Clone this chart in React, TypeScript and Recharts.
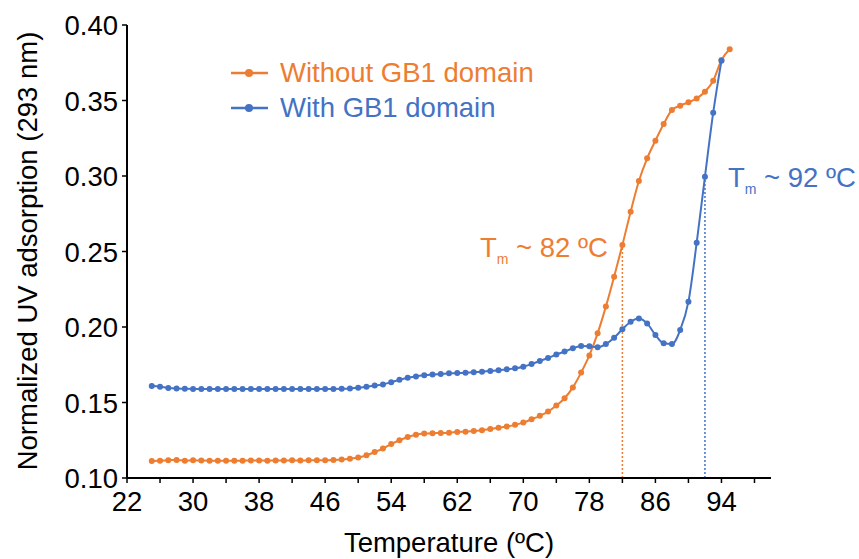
import React from 'react';
import {
    LineChart,
    Line,
    XAxis,
    YAxis,
    ReferenceLine
} from 'recharts';

const temps = [
    25, 26, 27, 28, 29, 30, 31, 32, 33, 34, 35, 36, 37, 38, 39, 40, 41, 42, 43, 44,
    45, 46, 47, 48, 49, 50, 51, 52, 53, 54, 55, 56, 57, 58, 59, 60, 61, 62, 63, 64,
    65, 66, 67, 68, 69, 70, 71, 72, 73, 74, 75, 76, 77, 78, 79, 80, 81, 82, 83, 84,
    85, 86, 87, 88, 89, 90, 91, 92, 93, 94, 95
];

// without GB1 domain (orange)
const withoutGB1 = [
    0.1113, 0.1115, 0.1118, 0.1120, 0.1115, 0.1117, 0.1116, 0.1115, 0.1115, 0.1114,
    0.1115, 0.1115, 0.1116, 0.1116, 0.1115, 0.1116, 0.1116, 0.1117, 0.1116, 0.1117,
    0.1117, 0.1118, 0.1119, 0.1122, 0.1128, 0.1136, 0.1150, 0.1172, 0.1195, 0.1225,
    0.1250, 0.1272, 0.1287, 0.1294, 0.1297, 0.1298, 0.1300, 0.1304, 0.1307, 0.1311,
    0.1317, 0.1324, 0.1333, 0.1341, 0.1352, 0.1367, 0.1389, 0.1412, 0.1440, 0.1480,
    0.1528, 0.1600, 0.1698, 0.1812, 0.1958, 0.2135, 0.2333, 0.2543, 0.2764, 0.2967,
    0.3117, 0.3234, 0.3344, 0.3437, 0.3466, 0.3488, 0.3514, 0.3558, 0.3631, 0.3768,
    0.3839
];

// with GB1 domain (blue), no reading at 95
const withGB1 = [
    0.1609, 0.1605, 0.1596, 0.1592, 0.1591, 0.1590, 0.1590, 0.1590, 0.1590, 0.1590,
    0.1590, 0.1590, 0.1590, 0.1590, 0.1590, 0.1590, 0.1590, 0.1590, 0.1590, 0.1590,
    0.1590, 0.1590, 0.1590, 0.1591, 0.1593, 0.1597, 0.1604, 0.1612, 0.1620, 0.1634,
    0.1650, 0.1664, 0.1673, 0.1680, 0.1686, 0.1689, 0.1693, 0.1695, 0.1697, 0.1700,
    0.1704, 0.1709, 0.1713, 0.1720, 0.1726, 0.1737, 0.1755, 0.1775, 0.1795, 0.1818,
    0.1837, 0.1859, 0.1874, 0.1872, 0.1866, 0.1887, 0.1929, 0.1985, 0.2035, 0.2057,
    0.2024, 0.1947, 0.1892, 0.1887, 0.1980, 0.2168, 0.2558, 0.2995, 0.3419, 0.3764,
    null
];

const xTicks = [22, 26, 30, 34, 38, 42, 46, 50, 54, 58, 62, 66, 70, 74, 78, 82, 86, 90, 94, 98];
const xTickLabels = [22, 30, 38, 46, 54, 62, 70, 78, 86, 94];
const yTicks = [0.10, 0.15, 0.20, 0.25, 0.30, 0.35, 0.40];

const tmWithout = { t: 82, v: 0.2543 };
const tmWith = { t: 92, v: 0.2995 };

const ORANGE = '#ED7D31';
const BLUE = '#4472C4';
const FONT = '"Liberation Sans", Arial, Helvetica, sans-serif';
const FS = 27.5;

const data = temps.map((t, i) => ({ t, without: withoutGB1[i], with: withGB1[i] }));

const XTick = (props: any) => {
    const { x, y, payload } = props;
    if (!xTickLabels.includes(payload.value)) return null;
    return (
        <text x={x} y={y + 26} textAnchor="middle" fill="#000" fontSize={FS} fontFamily={FONT}>
            {payload.value}
        </text>
    );
};

const YTick = (props: any) => {
    const { x, y, payload } = props;
    return (
        <text x={x} y={y} dy={10} textAnchor="end" fill="#000" fontSize={FS} fontFamily={FONT}>
            {payload.value.toFixed(2)}
        </text>
    );
};

const legendItems = [
    { name: 'Without GB1 domain', color: ORANGE },
    { name: 'With GB1 domain', color: BLUE },
];

const LegendBox = () => (
    <div style={{ position: 'absolute', left: 230, top: 55, fontFamily: FONT, fontSize: FS, lineHeight: 1 }}>
        {legendItems.map(item => (
            <div key={item.name} style={{ display: 'flex', alignItems: 'center', height: 35, color: item.color }}>
                <svg width={40} height={12} style={{ marginRight: 10 }}>
                    <line x1={1} y1={6} x2={38} y2={6} stroke={item.color} strokeWidth={2.5} />
                    <circle cx={19} cy={6} r={4} fill={item.color} />
                </svg>
                <span>{item.name}</span>
            </div>
        ))}
    </div>
);

const TmLabel = ({ left, top, color, temp }: any) => (
    <div style={{ position: 'absolute', left, top, color, fontFamily: FONT, fontSize: FS, lineHeight: 1, whiteSpace: 'nowrap' }}>
        T<span style={{ fontSize: 14, position: 'relative', top: 7 }}>m</span> ~ {temp} ºC
    </div>
);

export default function App() {
    return (
        <div style={{ position: 'absolute', left: 0, top: 0, width: 859, height: 559, background: '#fff' }}>
            <LineChart width={859} height={559} data={data} margin={{ top: 25, right: 88, left: 0, bottom: 0 }}>
                <XAxis
                    dataKey="t"
                    type="number"
                    domain={[22, 100]}
                    ticks={xTicks}
                    interval={0}
                    tick={<XTick />}
                    tickSize={5}
                    height={81}
                    axisLine={{ stroke: '#000', strokeWidth: 2 }}
                    tickLine={{ stroke: '#000', strokeWidth: 1.5 }}
                    label={{
                        content: () => (
                            <text x={449} y={552} textAnchor="middle" fill="#000" fontSize={FS} fontFamily={FONT}>
                                Temperature (ºC)
                            </text>
                        )
                    }}
                />
                <YAxis
                    type="number"
                    domain={[0.1, 0.4]}
                    ticks={yTicks}
                    interval={0}
                    width={127}
                    tick={<YTick />}
                    tickSize={5}
                    tickMargin={4}
                    axisLine={{ stroke: '#000', strokeWidth: 2 }}
                    tickLine={{ stroke: '#000', strokeWidth: 1.5 }}
                    label={{
                        content: () => (
                            <text
                                x={27}
                                y={251}
                                transform="rotate(-90, 27, 251)"
                                textAnchor="middle"
                                dominantBaseline="central"
                                fill="#000"
                                fontSize={FS}
                                fontFamily={FONT}
                            >
                                Normalized UV adsorption (293 nm)
                            </text>
                        )
                    }}
                />
                <ReferenceLine
                    segment={[{ x: tmWithout.t, y: 0.1 }, { x: tmWithout.t, y: tmWithout.v }]}
                    stroke={ORANGE}
                    strokeWidth={1.5}
                    strokeDasharray="2 2"
                />
                <ReferenceLine
                    segment={[{ x: tmWith.t, y: 0.1 }, { x: tmWith.t, y: tmWith.v }]}
                    stroke={BLUE}
                    strokeWidth={1.5}
                    strokeDasharray="2 2"
                />
                <Line
                    type="monotone"
                    dataKey="without"
                    name="Without GB1 domain"
                    stroke={ORANGE}
                    strokeWidth={2}
                    dot={{ r: 3, fill: ORANGE, stroke: ORANGE, strokeWidth: 0 }}
                    isAnimationActive={false}
                />
                <Line
                    type="monotone"
                    dataKey="with"
                    name="With GB1 domain"
                    stroke={BLUE}
                    strokeWidth={2}
                    dot={{ r: 3, fill: BLUE, stroke: BLUE, strokeWidth: 0 }}
                    connectNulls={false}
                    isAnimationActive={false}
                />
            </LineChart>
            <LegendBox />
            <TmLabel left={480} top={234} color={ORANGE} temp={82} />
            <TmLabel left={728} top={164} color={BLUE} temp={92} />
        </div>
    );
}
